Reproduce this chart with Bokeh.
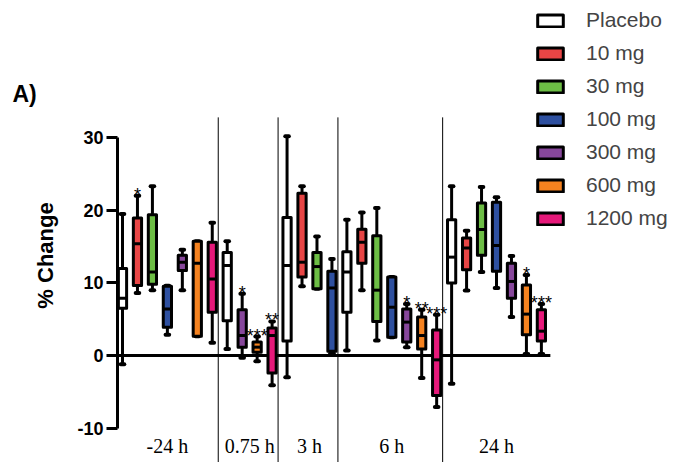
import numpy as np
from bokeh.plotting import figure
from bokeh.layouts import row
from bokeh.models import (ColumnDataSource, LinearAxis, FixedTicker, Legend,
                          LegendItem, Range1d)
from bokeh.core.properties import value
from bokeh.embed import file_html
from bokeh.resources import INLINE

# ---------------- data ----------------
timepoints = ["-24 h", "0.75 h", "3 h", "6 h", "24 h"]
doses = ["Placebo", "10 mg", "30 mg", "100 mg", "300 mg", "600 mg", "1200 mg"]
dose_colors = ["#FFFFFF", "#E84545", "#6DBE45", "#2E50A0", "#87479B", "#F5821F", "#E6197A"]

# one entry per box, in drawing order (left to right)
box_time = [0] * 7 + [1] * 4 + [2] * 4 + [3] * 7 + [4] * 7
box_dose = [0, 1, 2, 3, 4, 5, 6,
            0, 4, 5, 6,
            0, 1, 2, 3,
            0, 1, 2, 3, 4, 5, 6,
            0, 1, 2, 3, 4, 5, 6]
whisker_high = [19.5, 22.0, 23.3, 9.6, 14.55, 15.75, 18.3,
                15.75, 8.5, 2.6, 4.7,
                30.2, 23.3, 16.4, 13.3,
                18.7, 19.7, 20.3, 10.8, 7.1, 6.3, 5.6,
                23.3, 17.2, 23.2, 21.8, 13.7, 11.1, 7.1]
q3 = [12.0, 18.95, 19.4, 9.55, 13.8, 15.75, 15.6,
      14.2, 6.3, 1.85, 3.8,
      19.0, 22.35, 14.2, 11.6,
      14.3, 17.4, 16.5, 10.8, 6.4, 5.3, 3.5,
      18.7, 16.2, 21.0, 21.1, 12.7, 9.7, 6.3]
median = [7.9, 15.4, 11.5, 6.4, 12.85, 12.7, 10.55,
          12.4, 2.75, 1.15, 2.75,
          12.4, 12.85, 12.25, 9.3,
          11.5, 15.6, 9.0, 6.65, 4.6, 2.75, -0.6,
          13.55, 14.8, 17.35, 15.15, 10.2, 5.7, 3.35]
q1 = [6.5, 9.64, 9.8, 3.9, 11.7, 2.65, 5.97,
      4.8, 1.15, 0.46, -2.4,
      2.0, 10.8, 9.2, 0.6,
      5.97, 12.7, 4.7, 2.5, 1.85, 0.9, -5.5,
      10.0, 11.8, 13.8, 11.6, 7.9, 2.85, 2.0]
whisker_low = [-1.2, 8.6, 9.0, 2.85, 9.0, 2.65, 1.75,
               0.9, -0.3, -0.8, -4.1,
               -3.0, 9.55, 9.2, 0.3,
               0.7, 9.0, 2.07, 2.5, 1.15, -3.1, -7.1,
               -3.9, 8.95, 11.5, 9.3, 5.3, 0.2, 0.2]
significance = ["", "*", "", "", "", "", "",
                "", "*", "***", "**",
                "", "", "", "",
                "", "", "", "", "*", "**", "***",
                "", "", "", "", "", "*", "***"]
y_ticks = [-10, 0, 10, 20, 30]
y_title = "% Change"
panel_title = "A)"

# ---------------- derived ----------------
n = len(box_dose)
xs = np.arange(n, dtype=float)
bw = 0.55
cap = 0.12

src = ColumnDataSource(dict(
    x=xs, q1=q1, q3=q3, med=median, whi=whisker_high, wlo=whisker_low,
    sig=significance,
    ml=xs - bw / 2, mr=xs + bw / 2, cl=xs - cap, cr=xs + cap,
))

group_centers = [xs[[i for i in range(n) if box_time[i] == t]].mean() for t in range(len(timepoints))]
separators = []
for t in range(len(timepoints) - 1):
    last = max(i for i in range(n) if box_time[i] == t)
    separators.append((xs[last] + xs[last + 1]) / 2 - 0.1)

FONT = "Liberation Sans"
W, H = 676, 462
LW = 60                   # width of the left title strip
LEFT = 117                # page x of the y axis
X0, XS = 122.0, 14.96     # pixel of first box, pixel per box
Y0, YS = 355.0, 7.26      # pixel of zero, pixel per unit
x_start = (LEFT - X0) / XS
x_end = (W - X0) / XS
y_end = Y0 / YS
y_start = (Y0 - H) / YS

# ---------- left strip with the titles ----------
lt = figure(width=LW, height=H, x_range=Range1d(0, LW), y_range=Range1d(H, 0),
            output_backend="svg", toolbar_location=None,
            x_axis_location=None, y_axis_location=None,
            min_border_left=0, min_border_right=0, min_border_top=0, min_border_bottom=0)
lt.outline_line_color = None
lt.grid.visible = False
lt.text(x=[45], y=[255], text=[y_title], angle=np.pi / 2, text_align="center",
        text_baseline="middle", text_font=value(FONT), text_font_size="22px",
        text_font_style="bold", text_color="black")
lt.text(x=[12], y=[93], text=[panel_title], text_align="left",
        text_baseline="middle", text_font=value(FONT), text_font_size="23px",
        text_font_style="bold", text_color="black")

# ---------- main plot ----------
p = figure(width=W - LW, height=H,
           x_range=Range1d(x_start, x_end), y_range=Range1d(y_start, y_end),
           output_backend="svg", toolbar_location=None,
           x_axis_location=None, y_axis_location=None,
           min_border_left=LEFT - LW, min_border_right=0,
           min_border_top=0, min_border_bottom=0)
p.outline_line_color = None
p.grid.visible = False
p.background_fill_color = "white"

yaxis = LinearAxis(ticker=FixedTicker(ticks=y_ticks), bounds=(-10, 30),
                   major_label_overrides={t: str(t) for t in y_ticks})
yaxis.axis_line_width = 3
yaxis.major_tick_line_width = 3
yaxis.major_tick_out = 11
yaxis.major_tick_in = 0
yaxis.minor_tick_out = 0
yaxis.minor_tick_in = 0
yaxis.major_label_standoff = 3
yaxis.major_label_text_font = FONT
yaxis.major_label_text_font_style = "bold"
yaxis.major_label_text_font_size = "18px"
yaxis.major_label_text_color = "black"
p.add_layout(yaxis, "left")

# separators between time points
p.segment(x0=separators, x1=separators, y0=[32.8] * len(separators),
          y1=[y_start] * len(separators), line_color="black", line_width=1)

# zero line
p.segment(x0=[x_start], x1=[xs[-1] + 0.6], y0=[0], y1=[0], line_color="black", line_width=3)

# whiskers
p.segment(x0="x", x1="x", y0="q3", y1="whi", source=src, line_color="black", line_width=3)
p.segment(x0="x", x1="x", y0="q1", y1="wlo", source=src, line_color="black", line_width=3)
p.segment(x0="cl", x1="cr", y0="whi", y1="whi", source=src, line_color="black",
          line_width=4, line_cap="round")
p.segment(x0="cl", x1="cr", y0="wlo", y1="wlo", source=src, line_color="black",
          line_width=4, line_cap="round")

# boxes, one renderer per dose (for the legend)
legend_items = []
for d, name in enumerate(doses):
    idx = [i for i in range(n) if box_dose[i] == d]
    s = ColumnDataSource(dict(x=xs[idx], top=[q3[i] for i in idx], bottom=[q1[i] for i in idx]))
    r = p.vbar(x="x", top="top", bottom="bottom", width=bw, source=s,
               fill_color=dose_colors[d], line_color="black", line_width=3,
               line_join="round")
    legend_items.append(LegendItem(label=name, renderers=[r]))

# medians
p.segment(x0="ml", x1="mr", y0="med", y1="med", source=src, line_color="black", line_width=3)

# significance marks
p.text(x="x", y="whi", text="sig", source=src, text_align="center",
       text_baseline="alphabetic", y_offset=-1, text_font=value(FONT),
       text_font_size="18px", text_color="black")

# time point labels
p.text(x=group_centers, y=[-12.4] * len(timepoints), text=timepoints,
       text_align="center", text_baseline="middle",
       text_font=value("Liberation Serif"), text_font_size="20px", text_color="black")

legend = Legend(items=legend_items, location=(534 - LEFT, 232),
                glyph_width=32, glyph_height=15, label_standoff=20,
                spacing=9, padding=0, margin=0,
                label_text_font=FONT, label_text_font_size="21px",
                border_line_color=None, background_fill_alpha=0)
p.add_layout(legend)

layout = row(lt, p, spacing=0)
open("out.html", "w").write(file_html(layout, INLINE))
